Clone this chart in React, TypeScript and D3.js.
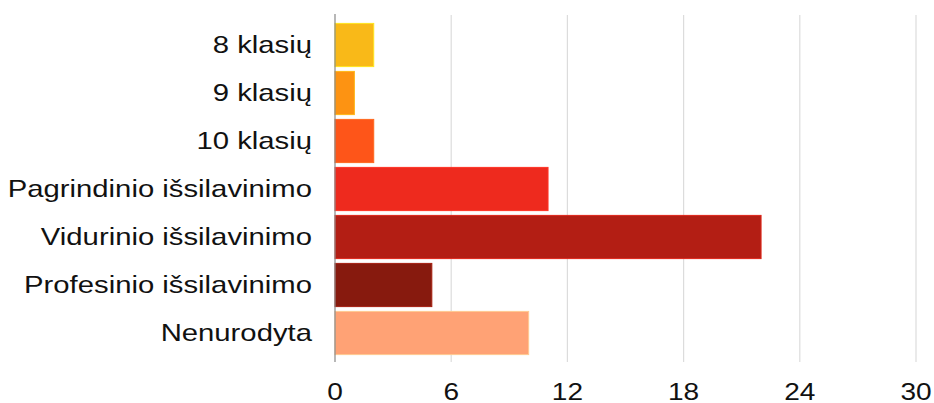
import React, { useEffect, useRef } from "react";
import * as d3 from "d3";

const categories = [
  "8 klasių",
  "9 klasių",
  "10 klasių",
  "Pagrindinio išsilavinimo",
  "Vidurinio išsilavinimo",
  "Profesinio išsilavinimo",
  "Nenurodyta",
];
const values = [2, 1, 2, 11, 22, 5, 10];
const colors = ["#F9B918", "#FD9312", "#FE5519", "#EE2A1E", "#B31E14", "#871A0E", "#FFA275"];
const xTicks = [0, 6, 12, 18, 24, 30];

const W = 934;
const H = 403;

export default function App() {
  const ref = useRef<SVGSVGElement>(null);
  useEffect(() => {
    const svg = d3.select(ref.current);
    svg.selectAll("*").remove();
    const x = d3.scaleLinear().domain([0, 30]).range([335, 916]);
    const y = d3
      .scaleBand<string>()
      .domain(categories)
      .range([21, 357])
      .paddingInner(0.1)
      .paddingOuter(0.05);
    const font = "'Liberation Sans', Arial, Helvetica, sans-serif";
    const sx = 1.22;

    // gridlines
    svg
      .append("g")
      .selectAll("line")
      .data(xTicks.filter((t) => t > 0))
      .join("line")
      .attr("x1", (d) => x(d))
      .attr("x2", (d) => x(d))
      .attr("y1", 15)
      .attr("y2", 362)
      .attr("stroke", "#dcdcdc")
      .attr("stroke-width", 1.2);

    // bars
    svg
      .append("g")
      .selectAll("rect")
      .data(categories)
      .join("rect")
      .attr("x", x(0))
      .attr("y", (d) => y(d)!)
      .attr("width", (d, i) => x(values[i]) - x(0))
      .attr("height", y.bandwidth())
      .attr("fill", (d, i) => colors[i])
      .attr("stroke", (d, i) => d3.color(colors[i])!.brighter(0.6).formatHex())
      .attr("stroke-width", 1);

    // axis line
    svg
      .append("line")
      .attr("x1", x(0))
      .attr("x2", x(0))
      .attr("y1", 14)
      .attr("y2", 362)
      .attr("stroke", "#888")
      .attr("stroke-width", 1.2);

    // category labels
    svg
      .append("g")
      .selectAll("text")
      .data(categories)
      .join("text")
      .attr("transform", (d) => `translate(312,${y(d)! + y.bandwidth() / 2}) scale(${sx},1)`)
      .attr("dy", "0.35em")
      .attr("text-anchor", "end")
      .attr("font-family", font)
      .attr("font-size", 24)
      .attr("fill", "#111")
      .text((d) => d);

    // x tick labels
    svg
      .append("g")
      .selectAll("text")
      .data(xTicks)
      .join("text")
      .attr("transform", (d) => `translate(${x(d)},400) scale(${sx},1)`)
      .attr("text-anchor", "middle")
      .attr("font-family", font)
      .attr("font-size", 23)
      .attr("fill", "#111")
      .text((d) => String(d));
  }, []);
  return (
    <svg
      ref={ref}
      width={W}
      height={H}
      style={{ position: "absolute", left: 0, top: 0, background: "#fff" }}
    />
  );
}
